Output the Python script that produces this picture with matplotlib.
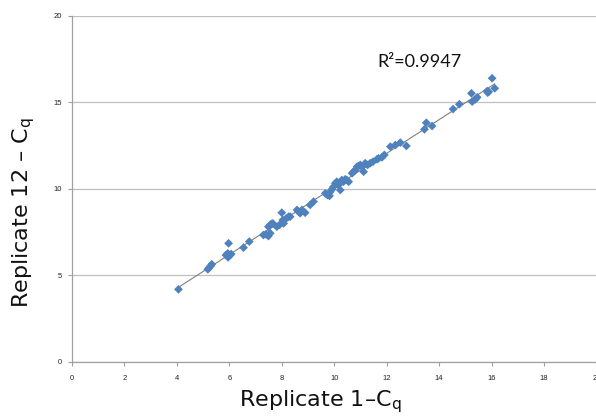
import numpy as np
import matplotlib
matplotlib.use("Agg")
import matplotlib.pyplot as plt

# Data
rep1 = [4.06, 5.18, 5.23, 5.29, 5.33, 5.97, 5.87, 5.95, 6.03, 5.94, 6.07, 6.54, 6.76,
        7.30, 7.40, 7.49, 7.56, 7.49, 7.60, 7.66, 7.56, 7.81, 7.91, 8.00, 8.07, 8.17,
        8.26, 8.04, 8.32, 8.58, 8.64, 8.70, 8.77, 8.89, 9.08, 9.21,
        9.66, 9.74, 9.82, 9.85, 9.91, 9.97, 10.04, 10.10, 10.23, 10.16, 10.29, 10.35,
        10.42, 10.48, 10.55, 10.68, 10.74, 10.80, 10.87, 10.93, 10.99, 11.06, 11.12,
        11.18, 11.27, 11.37, 11.48, 11.63, 11.69, 11.82, 11.91, 12.14, 12.33, 12.52,
        12.75, 13.44, 13.51, 13.73, 14.53, 14.77, 15.23, 15.26, 15.38, 15.45, 15.83,
        15.85, 15.89, 16.02, 16.12]
rep12 = [4.20, 5.36, 5.45, 5.55, 5.65, 6.86, 6.18, 6.05, 6.18, 6.28, 6.24, 6.61, 6.96,
         7.34, 7.38, 7.28, 7.44, 7.82, 7.98, 8.01, 7.92, 7.82, 7.92, 8.63, 8.01, 8.30,
         8.40, 8.21, 8.40, 8.79, 8.69, 8.60, 8.79, 8.63, 9.08, 9.27,
         9.75, 9.65, 9.60, 9.84, 9.98, 10.13, 10.33, 10.42, 9.94, 10.23, 10.52, 10.42,
         10.56, 10.52, 10.42, 10.91, 11.00, 11.10, 11.29, 11.33, 11.39, 11.29, 11.00,
         11.49, 11.39, 11.49, 11.58, 11.72, 11.77, 11.83, 11.97, 12.45, 12.54, 12.68,
         12.49, 13.45, 13.83, 13.64, 14.62, 14.90, 15.53, 15.05, 15.18, 15.30, 15.66,
         15.57, 15.62, 16.40, 15.82]
r2_label = "R²=0.9947"
x_ticks = [0, 2, 4, 6, 8, 10, 12, 14, 16, 18, 20]
y_ticks = [0, 5, 10, 15, 20]

plt.rcParams['font.family'] = ['DejaVu Sans']
plt.rcParams['mathtext.fontset'] = 'dejavusans'

fig = plt.figure(figsize=(5.96, 4.19), dpi=100)
ax = fig.add_axes([72/596, 1-362/419, (596.5-72)/596, (362-16)/419])

x = np.array(rep1)
y = np.array(rep12)
slope, intercept = np.polyfit(x, y, 1)
xl = np.array([x.min(), x.max()])
ax.plot(xl, slope*xl + intercept, color='#808080', lw=0.8, zorder=2)
ax.scatter(x, y, marker='D', s=20, color='#4F81BD', edgecolors='none', zorder=3)

ax.set_xlim(0, 20)
ax.set_ylim(0, 20)
ax.set_xticks(x_ticks)
ax.set_yticks(y_ticks)
ax.set_xticklabels([str(t) for t in x_ticks])
ax.set_yticklabels([str(t) for t in y_ticks])
ax.yaxis.grid(True, color='#bfbfbf', lw=0.9)
ax.set_axisbelow(True)
for s in ['top', 'right']:
    ax.spines[s].set_visible(False)
for s in ['left', 'bottom']:
    ax.spines[s].set_color('#a0a0a0')
    ax.spines[s].set_linewidth(0.9)
ax.tick_params(axis='both', colors='#a0a0a0', labelcolor='#222222',
               length=3, width=0.8, direction='out', pad=4)
ax.tick_params(axis='x', pad=6)
for lab in ax.get_xticklabels() + ax.get_yticklabels():
    lab.set_family('Liberation Sans')
    lab.set_fontsize(5.5)

fig.text(320/596, 1-406/419, r'Replicate 1–C$_\mathrm{q}$', fontsize=16, color='#111111',
         ha='center', va='baseline')
fig.text(24/596, 1-213/419, r'Replicate 12 – C$_\mathrm{q}$', fontsize=16, color='#111111',
         ha='center', va='center', rotation=90)

ax.text(11.64, 16.9, r2_label, fontsize=13, color='#111111', ha='left', va='bottom',
        family='Lato')

fig.savefig('out.png', dpi=100)
